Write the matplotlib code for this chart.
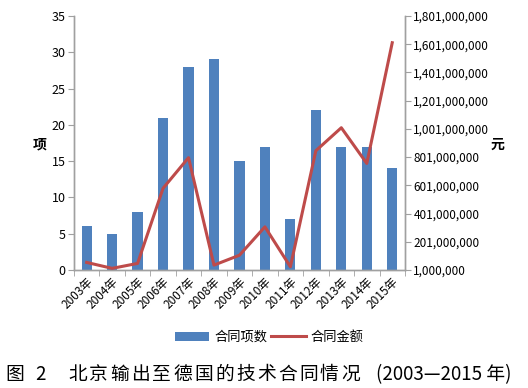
import matplotlib
matplotlib.use("Agg")
import matplotlib.pyplot as plt
import numpy as np
from matplotlib.ticker import FuncFormatter

plt.rcParams['font.family'] = ['Noto Sans CJK SC', 'DejaVu Sans']

years = ["2003年", "2004年", "2005年", "2006年", "2007年", "2008年", "2009年",
         "2010年", "2011年", "2012年", "2013年", "2014年", "2015年"]
counts = [6, 5, 8, 21, 28, 29, 15, 17, 7, 22, 17, 17, 14]
amounts = [55e6, 13e6, 48e6, 580e6, 797e6, 36e6, 106e6, 307e6, 24e6,
           846e6, 1009e6, 756e6, 1611e6]
left_ticks = [0, 5, 10, 15, 20, 25, 30, 35]
right_ticks = [1e6 + 2e8 * i for i in range(10)]
caption_title = "北京输出至德国的技术合同情况"

W, H = 528, 388
fig = plt.figure(figsize=(W / 100, H / 100), dpi=100)
ax = fig.add_axes([0.140, 0.304, 0.627, 0.655])
ax2 = ax.twinx()

x = np.arange(len(years))
bar_color = "#4F81BD"
line_color = "#BE4B4A"
ax.bar(x, counts, width=0.4, color=bar_color, label="合同项数", zorder=2)
ax2.plot(x, amounts, color=line_color, lw=2.2, label="合同金额", zorder=3)

ax.set_xlim(-0.5, len(years) - 0.5)
ax.set_ylim(0, 35)
ax2.set_ylim(1e6, 1.801e9)
ax.set_yticks(left_ticks)
ax2.set_yticks(right_ticks)
ax2.yaxis.set_major_formatter(FuncFormatter(lambda v, p: f"{int(round(v)):,}"))

ax.set_xticks(x)
ax.set_xticklabels(years, rotation=45, ha="right", rotation_mode="anchor", fontsize=8.5)
ax.set_xticks(np.arange(-0.5, len(years), 1), minor=True)
ax.tick_params(axis="x", which="major", length=0, pad=4)
ax.tick_params(axis="x", which="minor", length=4, color="#A0A0A0")
ax.tick_params(axis="y", length=4, color="#A0A0A0", labelsize=9, pad=2)
ax2.tick_params(axis="y", length=4, color="#A0A0A0", labelsize=8.5, pad=2)

for a in (ax, ax2):
    a.spines["top"].set_visible(False)
    for s in ("left", "right", "bottom"):
        a.spines[s].set_color("#A0A0A0")
        a.spines[s].set_linewidth(1.0)

ax.set_zorder(ax2.get_zorder() - 1)
ax.patch.set_visible(False)

fig.text(0.076, 0.627, "项", fontsize=10, fontweight="bold", ha="center", va="center")
fig.text(0.942, 0.627, "元", fontsize=10, fontweight="bold", ha="center", va="center")

h1, l1 = ax.get_legend_handles_labels()
h2, l2 = ax2.get_legend_handles_labels()
fig.legend(h1 + h2, l1 + l2, loc="center", bbox_to_anchor=(0.51, 0.13), ncol=2,
           frameon=False, fontsize=9.5, handlelength=2.6, columnspacing=0.3,
           handletextpad=0.4)

cy = 0.035
fs = 13.5
fig.text(5 / W, cy, "图", fontsize=fs, ha="left", va="center")
fig.text(35 / W, cy, "2", fontsize=fs, ha="left", va="center")
pitch = 21.0
for i, ch in enumerate(caption_title):
    fig.text((68 + i * pitch) / W, cy, ch, fontsize=fs, ha="left", va="center")
fig.text(376 / W, cy, "(2003—2015 年)", fontsize=fs, ha="left", va="center")

fig.savefig("out.png", dpi=100)
